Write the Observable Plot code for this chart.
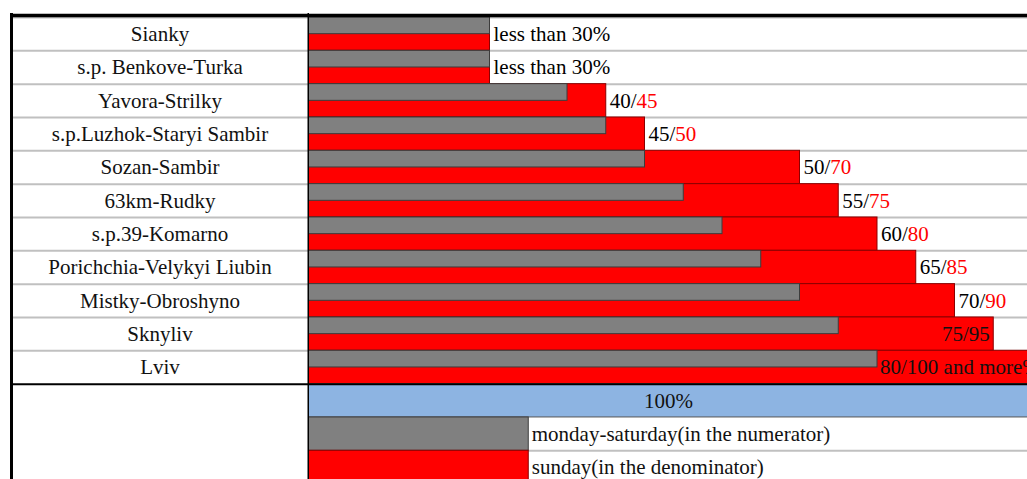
<!DOCTYPE html>
<html><head><meta charset="utf-8">
<script src="https://cdn.jsdelivr.net/npm/d3@7"></script>
<script src="https://cdn.jsdelivr.net/npm/@observablehq/plot@0.6"></script>
<style>
html,body{margin:0;padding:0;background:#fff;overflow:hidden;}
#chart{display:flex;width:1027px;height:479px;overflow:hidden;background:#fff;}
#chart svg{display:block;flex:none;}
</style></head><body><div id="chart"></div>
<script>
// ---- data ----
const stations = ["Sianky","s.p. Benkove-Turka","Yavora-Strilky","s.p.Luzhok-Staryi Sambir","Sozan-Sambir","63km-Rudky","s.p.39-Komarno","Porichchia-Velykyi Liubin","Mistky-Obroshyno","Sknyliv","Lviv"];
const weekday = [30,30,40,45,50,55,60,65,70,75,80];
const sunday  = [30,30,45,50,70,75,80,85,90,95,100];
const notes = ["less than 30%","less than 30%",null,null,null,null,null,null,null,null,"80/100 and more%"];
const placement = ["after","after","after","after","after","after","after","after","after","inside","overGray"];
const legendLabels = ["100%","monday-saturday(in the numerator)","sunday(in the denominator)"];
const legendValues = [100,35,35];

// ---- styles ----
const FS = 21;
const font = "'Liberation Serif','Times New Roman',serif";
const W = 1027, H = 479, leftW = 309;
const rowH = 33.33, tableTop = 17;
const gray = "#808080", grayStroke = "#3c3c3c", red = "#ff0000", redStroke = "#8b0000", blue = "#8db4e2";
const legendFill = [blue, gray, red];
const legendStroke = ["#555", grayStroke, redStroke];

const rows = stations.map((name,i)=>({name,i,mon:weekday[i],sun:sunday[i],note:notes[i],place:placement[i]}));
const legendRows = legendLabels.map((label,j)=>({label,v:legendValues[j],i:stations.length+j,fill:legendFill[j],stroke:legendStroke[j]}));
const nRows = stations.length + legendLabels.length;
const yScale = {type:"linear", domain:[0,nRows], range:[tableTop, tableTop+nRows*rowH], axis:null};
const numW = (2*0.5 + 0.278) * FS; // width of "NN/" in Times metrics
const style = {fontFamily:font, fontSize:FS+"px", background:"white", overflow:"hidden", color:"black"};

const left = Plot.plot({
  width: leftW, height: H, margin: 0,
  x: {domain:[0,1], range:[11,308], axis:null},
  y: yScale,
  style,
  marks: [
    Plot.ruleY(d3.range(0, stations.length), {x1:0, x2:1, stroke:"#c0c0c0", strokeWidth:2}),
    Plot.text(rows, {x:0.5, y:d=>d.i+0.5, text:"name", fill:"#111", fontSize:FS}),
    Plot.ruleY([stations.length], {x1:0, x2:1, stroke:"black", strokeWidth:2}),
    Plot.ruleY([0], {x1:0, x2:1, stroke:"black", strokeWidth:3.5, dy:-2}),
    Plot.ruleX([0], {y1:0, y2:nRows, stroke:"black", strokeWidth:3, insetTop:-4}),
    Plot.ruleX([1], {y1:0, y2:nRows, stroke:"black", strokeWidth:2, insetTop:-4})
  ]
});

const after = rows.filter(d=>d.place==="after");
const right = Plot.plot({
  width: W-leftW, height: H, margin: 0,
  x: {domain:[0,100], range:[257-leftW, 1032-leftW], axis:null},
  y: yScale,
  style,
  marks: [
    Plot.ruleY([...d3.range(0, stations.length), stations.length+2, stations.length+3], {stroke:"#c0c0c0", strokeWidth:2}),
    Plot.rect(rows, {x1:0, x2:"sun", y1:"i", y2:d=>d.i+1, fill:red, stroke:redStroke, strokeWidth:1, clip:true}),
    Plot.rect(rows, {x1:0, x2:"mon", y1:"i", y2:d=>d.i+0.5, fill:gray, stroke:grayStroke, strokeWidth:1, clip:true}),
    ...legendRows.map(d => Plot.rect([d], {x1:0, x2:"v", y1:"i", y2:e=>e.i+1, fill:d.fill, stroke:d.stroke, strokeWidth:1, clip:true})),
    // labels
    Plot.text(after.filter(d=>d.note), {x:"sun", y:d=>d.i+0.5, text:"note", textAnchor:"start", dx:3.5, fill:"black", fontSize:FS}),
    Plot.text(after.filter(d=>!d.note), {x:"sun", y:d=>d.i+0.5, text:d=>d.mon+"/", textAnchor:"start", dx:3.5, fill:"black", fontSize:FS}),
    Plot.text(after.filter(d=>!d.note), {x:"sun", y:d=>d.i+0.5, text:d=>String(d.sun), textAnchor:"start", dx:3.5+numW, fill:red, fontSize:FS}),
    Plot.text(rows.filter(d=>d.place==="inside"), {x:"sun", y:d=>d.i+0.5, text:d=>d.mon+"/"+d.sun, textAnchor:"end", dx:-4, fill:"#111", fontSize:FS}),
    Plot.text(rows.filter(d=>d.place==="overGray"), {x:"mon", y:d=>d.i+0.5, text:"note", textAnchor:"start", dx:2.5, fill:"#111", fontSize:FS}),
    Plot.text(legendRows.slice(0,1), {y:d=>d.i+0.5, text:"label", frameAnchor:"middle", fill:"#111", fontSize:FS}),
    Plot.text(legendRows.slice(1), {x:"v", y:d=>d.i+0.5, text:"label", textAnchor:"start", dx:3, fill:"#111", fontSize:FS}),
    // borders
    Plot.ruleY([stations.length], {stroke:"black", strokeWidth:2}),
    Plot.ruleY([0], {stroke:"black", strokeWidth:3.5, dy:-2})
  ]
});

document.getElementById("chart").append(left, right);
</script></body></html>
